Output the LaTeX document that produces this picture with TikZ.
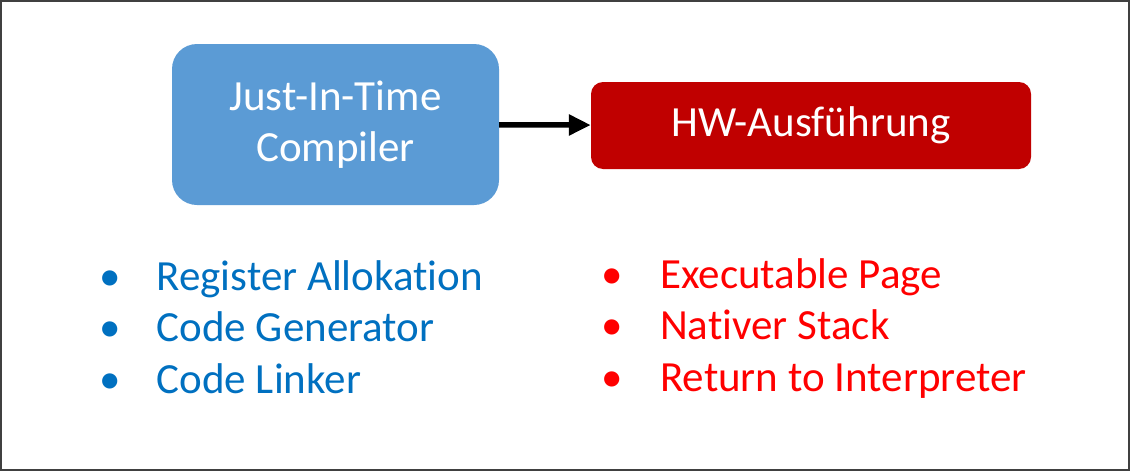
\documentclass[tikz,border=0pt]{standalone}
\usepackage{fontspec}
\setmainfont[Ligatures=NoCommon]{Carlito}
\usetikzlibrary{positioning, arrows.meta}
\definecolor{jitblue}{HTML}{5B9BD5}
\definecolor{hwred}{HTML}{C00000}
\definecolor{listblue}{HTML}{0070C0}
\definecolor{listred}{HTML}{FF0000}
\definecolor{framegray}{HTML}{404040}

\tikzset{
  stagebox/.style={rounded corners=25pt, text=white, align=center, inner sep=0pt},
  bulletlist/.style={anchor=base west, inner sep=0pt, align=left}
}

\begin{document}
\begin{tikzpicture}[x=1pt, y=-1pt, font=\fontsize{43}{51.5}\selectfont]
        \useasboundingbox (0,0) rectangle (1130,471);
        \draw[framegray, line width=2pt] (1,1) rectangle (1129,470);
        \node[stagebox, fill=jitblue, minimum width=327pt, minimum height=161pt] (jit) at (335.5,124.5) {Just-In-Time\\Compiler};
        \node[stagebox, rounded corners=12pt, fill=hwred, minimum width=440pt, minimum height=87pt] (hw) at (811,125.5) {HW-Ausführung};
        \draw[line width=5.5pt, -{Triangle[length=22pt, width=20pt]}] (jit) -- (hw);
        \node[bulletlist, text=listblue] (jitlist) at (99.5,290) {\begin{tabular}[t]{@{}p{57pt}@{}l@{}}
          \textbullet & Register Allokation\\
          \textbullet & Code Generator\\
          \textbullet & Code Linker
        \end{tabular}};
        \node[bulletlist, text=listred] (hwlist) at (601.5,288) {\begin{tabular}[t]{@{}p{58.5pt}@{}l@{}}
          \textbullet & Executable Page\\
          \textbullet & Nativer Stack\\
          \textbullet & Return to Interpreter
        \end{tabular}};
      \end{tikzpicture}
\end{document}
